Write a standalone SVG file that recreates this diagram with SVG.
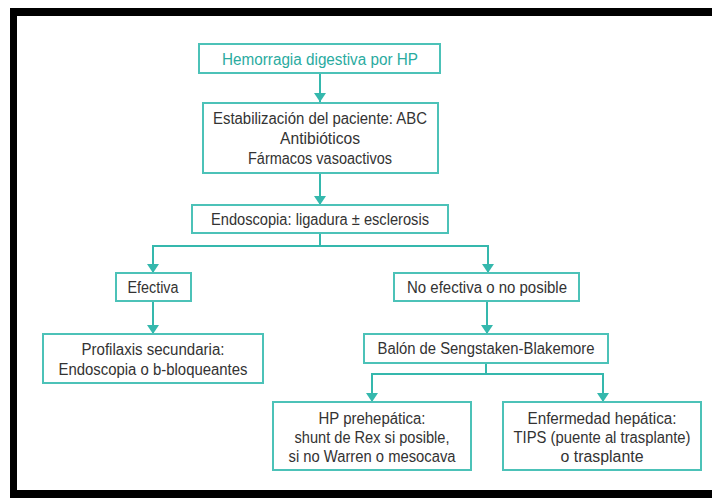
<svg xmlns="http://www.w3.org/2000/svg" width="712" height="500" viewBox="0 0 712 500">
<defs>
<marker id="ah" markerUnits="userSpaceOnUse" markerWidth="9" markerHeight="12" refX="9" refY="6" orient="auto">
<path d="M0,0 L9,6 L0,12 z" fill="#35b8ad"/>
</marker>
<style>
.box{fill:#fff;stroke:#4cc2b8;stroke-width:2}
.t{font-family:"Liberation Sans",Arial,sans-serif;font-size:16px;fill:#333;text-anchor:middle}
.title{fill:#2aab9f}
.c{fill:none;stroke:#35b8ad;stroke-width:2}
</style>
</defs>
<rect width="712" height="500" fill="#fff"/>
<g id="frame" fill="#000">
<rect x="10" y="8" width="702" height="8"/>
<rect x="10" y="8" width="7" height="490"/>
<rect x="10" y="490" width="702" height="8"/>
</g>
<g id="connectors">
<path class="c" d="M320,73 V102" marker-end="url(#ah)"/>
<path class="c" d="M320,173 V205" marker-end="url(#ah)"/>
<path class="c" d="M320,233 V246 M153,246 H488"/>
<path class="c" d="M153,245 V273" marker-end="url(#ah)"/>
<path class="c" d="M488,245 V273" marker-end="url(#ah)"/>
<path class="c" d="M153,301 V334" marker-end="url(#ah)"/>
<path class="c" d="M487,301 V334" marker-end="url(#ah)"/>
<path class="c" d="M486,363 V374 M372,374 H603"/>
<path class="c" d="M372,373 V402" marker-end="url(#ah)"/>
<path class="c" d="M603,373 V402" marker-end="url(#ah)"/>
</g>
<g id="n1">
<rect class="box" x="199" y="44" width="241" height="29"/>
<text class="t title" x="320" y="65" textLength="196" lengthAdjust="spacingAndGlyphs">Hemorragia digestiva por HP</text>
</g>
<g id="n2">
<rect class="box" x="203" y="103" width="235" height="70"/>
<text class="t" x="320" y="124" textLength="214" lengthAdjust="spacingAndGlyphs">Estabilización del paciente: ABC</text>
<text class="t" x="320" y="144" textLength="80" lengthAdjust="spacingAndGlyphs">Antibióticos</text>
<text class="t" x="320" y="164" textLength="144" lengthAdjust="spacingAndGlyphs">Fármacos vasoactivos</text>
</g>
<g id="n3">
<rect class="box" x="192" y="205" width="256" height="28"/>
<text class="t" x="320" y="225" textLength="218" lengthAdjust="spacingAndGlyphs">Endoscopia: ligadura ± esclerosis</text>
</g>
<g id="n4">
<rect class="box" x="116" y="273" width="75" height="28"/>
<text class="t" x="153" y="293" textLength="51" lengthAdjust="spacingAndGlyphs">Efectiva</text>
</g>
<g id="n5">
<rect class="box" x="394" y="273" width="185" height="28"/>
<text class="t" x="487" y="293" textLength="160" lengthAdjust="spacingAndGlyphs">No efectiva o no posible</text>
</g>
<g id="n6">
<rect class="box" x="43" y="334" width="220" height="49"/>
<text class="t" x="153" y="355" textLength="143" lengthAdjust="spacingAndGlyphs">Profilaxis secundaria:</text>
<text class="t" x="153" y="375" textLength="189" lengthAdjust="spacingAndGlyphs">Endoscopia o b-bloqueantes</text>
</g>
<g id="n7">
<rect class="box" x="364" y="334" width="244" height="29"/>
<text class="t" x="486" y="354" textLength="217" lengthAdjust="spacingAndGlyphs">Balón de Sengstaken-Blakemore</text>
</g>
<g id="n8">
<rect class="box" x="273" y="402" width="198" height="68"/>
<text class="t" x="372" y="424" textLength="107" lengthAdjust="spacingAndGlyphs">HP prehepática:</text>
<text class="t" x="372" y="443" textLength="155" lengthAdjust="spacingAndGlyphs">shunt de Rex si posible,</text>
<text class="t" x="372" y="462" textLength="167" lengthAdjust="spacingAndGlyphs">si no Warren o mesocava</text>
</g>
<g id="n9">
<rect class="box" x="503" y="402" width="198" height="68"/>
<text class="t" x="602" y="424" textLength="149" lengthAdjust="spacingAndGlyphs">Enfermedad hepática:</text>
<text class="t" x="602" y="443" textLength="177" lengthAdjust="spacingAndGlyphs">TIPS (puente al trasplante)</text>
<text class="t" x="602" y="462" textLength="83" lengthAdjust="spacingAndGlyphs">o trasplante</text>
</g>
</svg>
